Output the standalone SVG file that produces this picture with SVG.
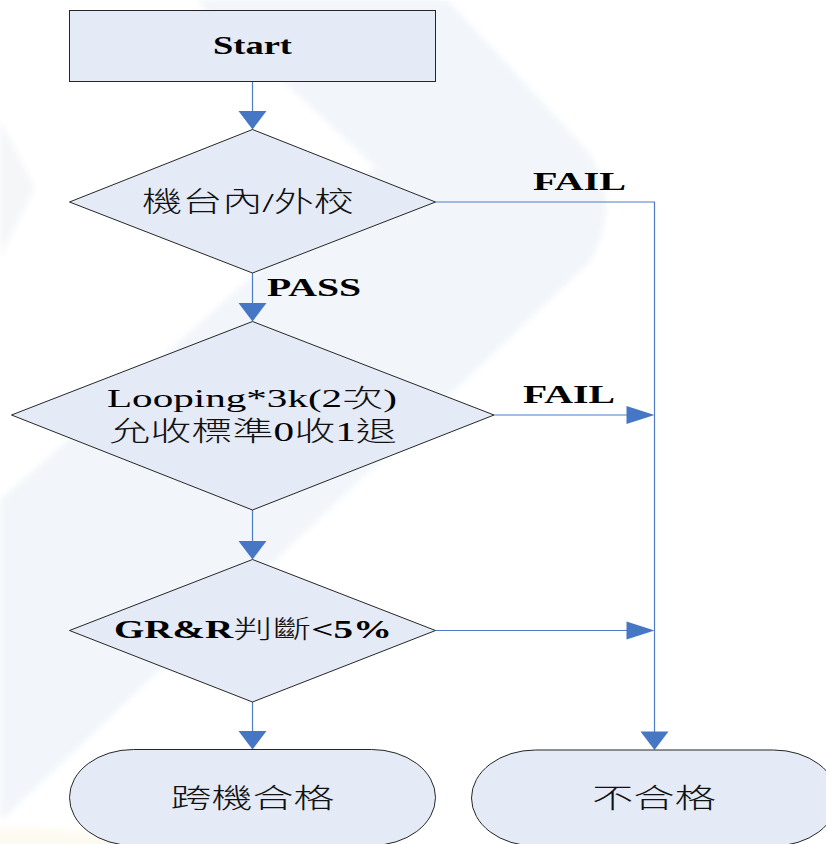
<svg xmlns="http://www.w3.org/2000/svg" width="826" height="844" viewBox="0 0 826 844">
  <defs>
    <style>
      .shape { fill: #e5ebf6; stroke: #262626; stroke-width: 1; }
      .wire { fill: none; stroke: #4d7cc6; stroke-width: 1.2; }
      .head { fill: #4677c4; }
      .lat { font-family: "Liberation Serif", "Times New Roman", serif; font-weight: bold; fill: #000; }
      .latr { font-family: "Liberation Serif", "Times New Roman", serif; font-weight: normal; fill: #000; }
      .cjk { font-family: "Noto Sans CJK TC", "Noto Sans CJK SC", sans-serif; font-weight: 300; fill: #111; }
    </style>
    <!-- arrowheads, tip at the origin -->
    <polygon id="headDown" class="head" points="-14,-18.5 14,-18.5 0,0"/>
    <polygon id="headRight" class="head" points="-28,-9 -28,9 0,0"/>
    <filter id="soft" x="-10%" y="-10%" width="120%" height="120%">
      <feGaussianBlur stdDeviation="3"/>
    </filter>
  </defs>

  <rect width="826" height="844" fill="#ffffff"/>

  <!-- faint background chevron -->
  <g id="backdrop" filter="url(#soft)">
    <path d="M195,0 H448 L585,148 Q625,200 590,262 L0,822 V500 L375,167 Z" fill="#f2f6fa"/>
    <path d="M0,120 L35,188 L0,258 Z" fill="#f5f6f8"/>
    <ellipse cx="20" cy="850" rx="110" ry="22" fill="#fdfaf1"/>
  </g>

  <!-- connectors -->
  <g id="connectors">
    <path class="wire" d="M252.5,81.5 V112"/>
    <use href="#headDown" x="252.5" y="129.5"/>
    <path class="wire" d="M252.5,273 V304"/>
    <use href="#headDown" x="252.5" y="321.5"/>
    <path class="wire" d="M252.5,510 V542"/>
    <use href="#headDown" x="252.5" y="559.5"/>
    <path class="wire" d="M252.5,702 V732"/>
    <use href="#headDown" x="252.5" y="749.5"/>

    <path class="wire" d="M435.5,202 H654.5 V732"/>
    <use href="#headDown" x="654.5" y="750"/>
    <path class="wire" d="M494,415 H627"/>
    <use href="#headRight" x="654.5" y="415"/>
    <path class="wire" d="M435.5,630.5 H627"/>
    <use href="#headRight" x="654.5" y="630.5"/>

    <text class="lat" x="533" y="190" font-size="26" textLength="93" lengthAdjust="spacingAndGlyphs">FAIL</text>
    <text class="lat" x="267" y="296" font-size="26" textLength="94" lengthAdjust="spacingAndGlyphs">PASS</text>
    <text class="lat" x="523" y="403" font-size="26" textLength="92" lengthAdjust="spacingAndGlyphs">FAIL</text>
  </g>

  <g id="start">
    <rect class="shape" x="69.5" y="10.5" width="366" height="71"/>
    <text class="lat" x="213" y="54" font-size="26" textLength="79" lengthAdjust="spacingAndGlyphs">Start</text>
  </g>

  <g id="calibration">
    <polygon class="shape" points="252.5,129.5 435.5,202 252.5,273 69.5,202"/>
    <text x="142" y="212" font-size="28" textLength="212" lengthAdjust="spacingAndGlyphs"><tspan class="cjk">機台內</tspan><tspan class="latr">/</tspan><tspan class="cjk">外校</tspan></text>
  </g>

  <g id="looping">
    <polygon class="shape" points="252.5,321.5 494,415 252.5,510 11.5,415"/>
    <text x="107" y="407" font-size="25" textLength="290" lengthAdjust="spacingAndGlyphs"><tspan class="latr">Looping*3k(2</tspan><tspan class="cjk">次</tspan><tspan class="latr">)</tspan></text>
    <text x="109" y="441" font-size="27" textLength="288" lengthAdjust="spacingAndGlyphs"><tspan class="cjk">允收標準</tspan><tspan class="latr">0</tspan><tspan class="cjk">收</tspan><tspan class="latr">1</tspan><tspan class="cjk">退</tspan></text>
  </g>

  <g id="grr">
    <polygon class="shape" points="252.5,559.5 435.5,630.5 252.5,702 69.5,630.5"/>
    <text x="114" y="638" font-size="25" textLength="278" lengthAdjust="spacingAndGlyphs"><tspan class="lat">GR&amp;R</tspan><tspan class="cjk">判斷</tspan><tspan class="lat">&lt;5%</tspan></text>
  </g>

  <g id="pass-end">
    <rect class="shape" x="69.5" y="749.5" width="366" height="96" rx="64" ry="48"/>
    <text class="cjk" x="170.5" y="808" font-size="27" textLength="164" lengthAdjust="spacingAndGlyphs">跨機合格</text>
  </g>

  <g id="fail-end">
    <rect class="shape" x="471.5" y="750" width="366" height="96" rx="64" ry="48"/>
    <text class="cjk" x="592" y="808" font-size="27" textLength="124" lengthAdjust="spacingAndGlyphs">不合格</text>
  </g>
</svg>
